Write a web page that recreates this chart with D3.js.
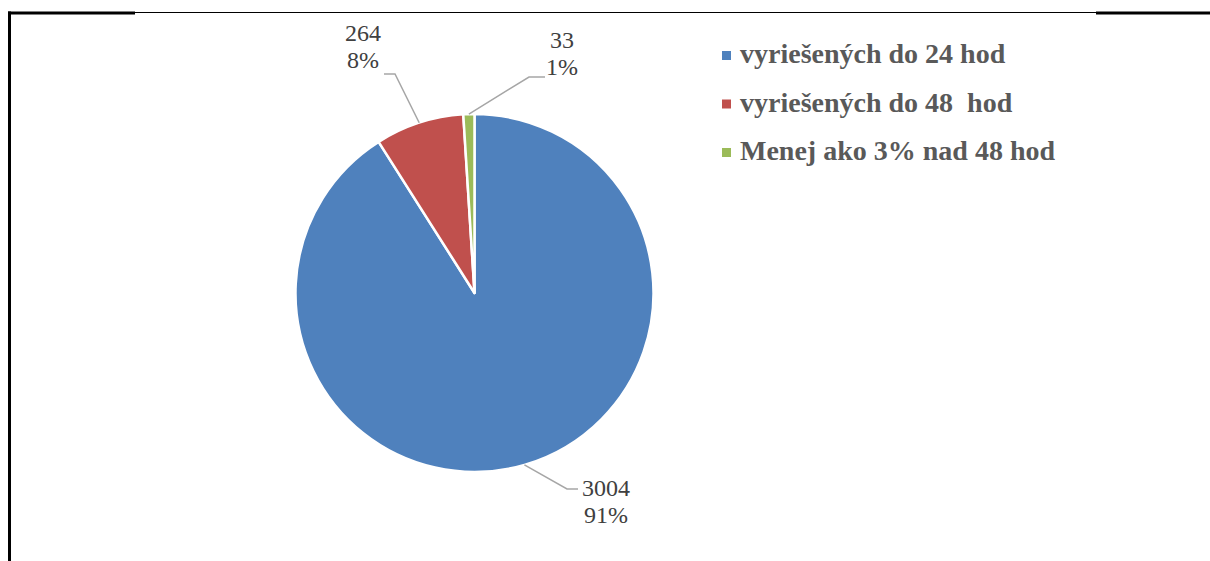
<!DOCTYPE html>
<html>
<head>
<meta charset="utf-8">
<script src="https://cdn.jsdelivr.net/npm/d3@7"></script>
<style>
  html, body { margin: 0; padding: 0; background: #fff; }
  svg { display: block; }
  text { white-space: pre; }
</style>
</head>
<body>
<svg id="chart" width="1210" height="561"></svg>
<script>
// Categories and values of the pie
const categories = ["vyriešených do 24 hod", "vyriešených do 48  hod", "Menej ako 3% nad 48 hod"];
const values = [3004, 264, 33];
const percentLabels = ["91%", "8%", "1%"];
const colors = ["#4F81BD", "#C0504D", "#9BBB59"];

const svg = d3.select("#chart");
const W = 1210, H = 561;
const serif = "'Liberation Serif', 'Times New Roman', serif";

// Frame lines
const frame = svg.append("g");
frame.append("line").attr("x1", 8).attr("x2", 135).attr("y1", 13).attr("y2", 13)
  .attr("stroke", "#000").attr("stroke-width", 3);
frame.append("line").attr("x1", 135).attr("x2", 1096).attr("y1", 12.5).attr("y2", 12.5)
  .attr("stroke", "#000").attr("stroke-width", 1);
frame.append("line").attr("x1", 1096).attr("x2", W).attr("y1", 13).attr("y2", 13)
  .attr("stroke", "#000").attr("stroke-width", 3);
frame.append("line").attr("x1", 9.5).attr("x2", 9.5).attr("y1", 11.5).attr("y2", H)
  .attr("stroke", "#000").attr("stroke-width", 3);

// Pie
const cx = 474.5, cy = 293, r = 179;
const pie = d3.pie().sort(null).value(d => d)(values);
const arc = d3.arc().innerRadius(0).outerRadius(r);
const g = svg.append("g").attr("transform", `translate(${cx},${cy})`);
g.selectAll("path").data(pie).join("path")
  .attr("d", arc)
  .attr("fill", (d, i) => colors[i])
  .attr("stroke", "#fff")
  .attr("stroke-width", 2.5)
  .attr("stroke-linejoin", "round");

// Data labels with leader lines
const labelPos = [
  { elbow: [567, 489], end: [578, 489], x: 606, y: 496 },
  { elbow: [395, 74], end: [384, 74], x: 363, y: 41 },
  { elbow: [529, 77], end: [545, 77], x: 562, y: 48 }
];
pie.forEach((d, i) => {
  const a = (d.startAngle + d.endAngle) / 2;
  const sx = cx + r * Math.sin(a), sy = cy - r * Math.cos(a);
  const p = labelPos[i];
  svg.append("polyline")
    .attr("points", [[sx, sy], p.elbow, p.end].map(q => q.join(",")).join(" "))
    .attr("fill", "none").attr("stroke", "#A6A6A6").attr("stroke-width", 1.5);
  const t = svg.append("text")
    .attr("x", p.x).attr("y", p.y)
    .attr("text-anchor", "middle")
    .attr("font-family", serif)
    .attr("font-size", 24).attr("fill", "#404040");
  t.append("tspan").attr("x", p.x).text(values[i]);
  t.append("tspan").attr("x", p.x).attr("dy", 27).text(percentLabels[i]);
});

// Legend
const legend = svg.append("g");
categories.forEach((c, i) => {
  const y = 63 + i * 48.5;
  legend.append("rect").attr("x", 722).attr("y", y - 12).attr("width", 9).attr("height", 9)
    .attr("fill", colors[i]);
  legend.append("text").attr("x", 740).attr("y", y)
    .attr("font-family", serif)
    .attr("font-weight", "bold").attr("font-size", 28).attr("fill", "#595959")
    .text(c);
});
</script>
</body>
</html>
